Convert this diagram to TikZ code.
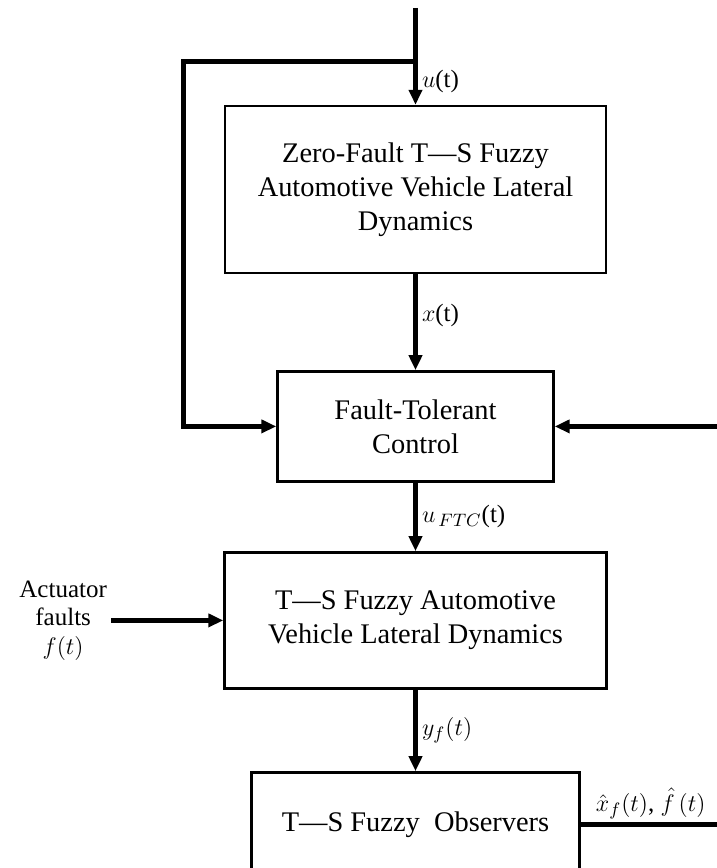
\documentclass[tikz,border=0pt]{standalone}
\usepackage{amsmath}
\usepackage{fontspec}
\setmainfont{Liberation Serif}
\usepackage{tikz}
\usetikzlibrary{positioning,arrows.meta}

\begin{document}
\begin{tikzpicture}[x=1pt, y=1pt]
  \tikzset{
    sysbox/.style={draw, line width=1.2pt, rectangle, align=center, text centered, font=\fontsize{14.2}{17}\selectfont},
    sigline/.style={line width=2.5pt, -{Triangle[length=7.5pt,width=6.5pt]}},
    wire/.style={line width=2.5pt},
    siglabel/.style={font=\fontsize{12.5}{14}\selectfont, inner sep=2pt}
  }
  \useasboundingbox (0,0) rectangle (358.5,-434);

  \node[sysbox, minimum width=190.5pt, minimum height=83.5pt] (zero) at (207.75,-94.75) {Zero-Fault T---S Fuzzy\\Automotive Vehicle Lateral\\Dynamics};
  \node[sysbox, minimum width=138pt, minimum height=55pt, below=48pt of zero] (ftc) {Fault-Tolerant\\Control};
  \node[sysbox, minimum width=191pt, minimum height=68pt, below=34.3pt of ftc] (faulty) {T---S Fuzzy Automotive\\Vehicle Lateral Dynamics};
  \node[sysbox, minimum width=164pt, minimum height=52pt, below=40.8pt of faulty] (obs) {T---S Fuzzy~ Observers};
  \node[align=center, inner sep=2pt, font=\fontsize{12.5}{14.25}\selectfont, left=56pt of faulty] (actuator) {Actuator\\faults\\$f(t)$};

  \coordinate[above=48.5pt of zero] (in);
  \coordinate[above=21.5pt of zero] (split);
  \coordinate[left=116pt of split] (fbk);
  \coordinate[right=82pt of ftc] (rin);
  \coordinate[right=70pt of obs] (out);

  \draw[sigline] (in) -- node[siglabel, right, pos=0.76] {$u$(t)} (zero);
  \draw[sigline] (split) -- (fbk) |- (ftc);
  \draw[sigline] (rin) -- (ftc);
  \draw[sigline] (zero) -- node[siglabel, right, pos=0.43] {$x$(t)} (ftc);
  \draw[sigline] (ftc) -- node[siglabel, right] {$u_{\,FTC}$(t)} (faulty);
  \draw[sigline] (actuator) -- (faulty);
  \draw[sigline] (faulty) -- node[siglabel, right] {$y_f(t)$} (obs);
  \draw[wire] (obs) -- node[siglabel, above, inner sep=1.5pt] {$\hat{x}_f(t)$, $\hat{f}\,(t)$} (out);
\end{tikzpicture}
\end{document}
